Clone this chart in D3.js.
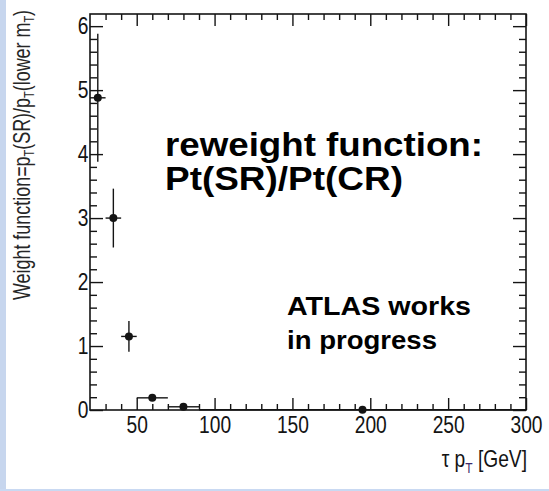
<!DOCTYPE html>
<html>
<head>
<meta charset="utf-8">
<script src="https://cdn.jsdelivr.net/npm/d3@7"></script>
<style>
  html, body { margin: 0; padding: 0; background: #ffffff; }
  svg { display: block; }
</style>
</head>
<body>
<svg id="chart" width="549" height="491"></svg>
<script>
// Tau pT bins (GeV) and the signal-region / control-region weight measured in each
const binLow    = [20, 30, 40, 50, 70, 90];
const binHigh   = [30, 40, 50, 70, 90, 300];
const binCenter = [25, 35, 45, 60, 80, 195];
const weight    = [4.88, 3.00, 1.15, 0.19, 0.05, 0.005];
const weightErr = [1.00, 0.46, 0.24, 0.03, 0.02, 0.005];

// Axis ticks
const xTicks = [50, 100, 150, 200, 250, 300];
const yTicks = [0, 1, 2, 3, 4, 5, 6];
const xMinorTicks = [30, 40, 60, 70, 80, 90, 110, 120, 130, 140, 160, 170, 180, 190,
                     210, 220, 230, 240, 260, 270, 280, 290];
const yMinorTicks = [0.2, 0.4, 0.6, 0.8, 1.2, 1.4, 1.6, 1.8, 2.2, 2.4, 2.6, 2.8,
                     3.2, 3.4, 3.6, 3.8, 4.2, 4.4, 4.6, 4.8, 5.2, 5.4, 5.6, 5.8];

const FONT = "'Liberation Sans', Arial, Helvetica, sans-serif";
const INK = "#141414";
const NARROW = "scale(0.8,1)";

const svg = d3.select("#chart");

// slide accents: left strip and bottom rule
svg.append("rect").attr("x", 0).attr("y", 0).attr("width", 6).attr("height", 491).attr("fill", "#c7d6ee");
svg.append("rect").attr("x", 0).attr("y", 489).attr("width", 549).attr("height", 2).attr("fill", "#c9d9f2");

// plot frame
const frame = { left: 90, right: 526, top: 14, bottom: 410 };

const x = d3.scaleLinear().domain([20, 300]).range([frame.left, frame.right]);
const y = d3.scaleLinear().domain([0, 6.19]).range([frame.bottom, frame.top]);

function styleAxis(g) {
  g.select(".domain").remove();
  g.attr("font-family", FONT).attr("font-size", 24).attr("color", INK);
  g.selectAll(".tick line").attr("stroke-width", 1.4);
  g.selectAll(".tick text").attr("transform", NARROW);
}

// bottom axis: labelled majors + minors, ticks pointing into the frame
svg.append("g").attr("transform", `translate(0,${frame.bottom})`)
  .call(d3.axisBottom(x).tickValues(xTicks).tickSizeInner(-12).tickSizeOuter(0)
          .tickPadding(6).tickFormat(d3.format("d")))
  .call(styleAxis);
svg.append("g").attr("transform", `translate(0,${frame.bottom})`)
  .call(d3.axisBottom(x).tickValues(xMinorTicks).tickSizeInner(-6).tickSizeOuter(0).tickFormat(""))
  .call(styleAxis);

// top mirror axis
svg.append("g").attr("transform", `translate(0,${frame.top})`)
  .call(d3.axisTop(x).tickValues(xTicks).tickSizeInner(-12).tickSizeOuter(0).tickFormat(""))
  .call(styleAxis);
svg.append("g").attr("transform", `translate(0,${frame.top})`)
  .call(d3.axisTop(x).tickValues(xMinorTicks).tickSizeInner(-6).tickSizeOuter(0).tickFormat(""))
  .call(styleAxis);

// left axis
svg.append("g").attr("transform", `translate(${frame.left},0)`)
  .call(d3.axisLeft(y).tickValues(yTicks).tickSizeInner(-13).tickSizeOuter(0)
          .tickPadding(2).tickFormat(d3.format("d")))
  .call(styleAxis);
svg.append("g").attr("transform", `translate(${frame.left},0)`)
  .call(d3.axisLeft(y).tickValues(yMinorTicks).tickSizeInner(-7).tickSizeOuter(0).tickFormat(""))
  .call(styleAxis);

// right mirror axis
svg.append("g").attr("transform", `translate(${frame.right},0)`)
  .call(d3.axisRight(y).tickValues(yTicks).tickSizeInner(-13).tickSizeOuter(0).tickFormat(""))
  .call(styleAxis);
svg.append("g").attr("transform", `translate(${frame.right},0)`)
  .call(d3.axisRight(y).tickValues(yMinorTicks).tickSizeInner(-7).tickSizeOuter(0).tickFormat(""))
  .call(styleAxis);

svg.append("rect")
  .attr("x", frame.left).attr("y", frame.top)
  .attr("width", frame.right - frame.left).attr("height", frame.bottom - frame.top)
  .attr("fill", "none").attr("stroke", INK).attr("stroke-width", 1.6);

// data points with bin-width and statistical error bars
const points = binCenter.map((c, i) => ({
  c, lo: binLow[i], hi: binHigh[i], w: weight[i], e: weightErr[i]
}));

const marks = svg.append("g").attr("stroke", INK).attr("stroke-width", 1.4);
marks.selectAll("line.xerr").data(points).join("line").attr("class", "xerr")
  .attr("x1", d => x(d.lo)).attr("x2", d => x(d.hi))
  .attr("y1", d => y(d.w)).attr("y2", d => y(d.w));
marks.selectAll("line.yerr").data(points).join("line").attr("class", "yerr")
  .attr("x1", d => x(d.c)).attr("x2", d => x(d.c))
  .attr("y1", d => y(d.w - d.e)).attr("y2", d => y(d.w + d.e));
svg.append("g").selectAll("circle").data(points).join("circle")
  .attr("cx", d => x(d.c)).attr("cy", d => y(d.w)).attr("r", 4).attr("fill", INK);

// axis titles
const yTitle = svg.append("text")
  .attr("transform", "translate(30,155) rotate(-90) scale(0.78,1)")
  .attr("text-anchor", "middle")
  .attr("font-family", FONT).attr("font-size", 23).attr("fill", "#262626");
yTitle.append("tspan").text("Weight function=p");
yTitle.append("tspan").attr("font-size", 14).attr("dy", 4).text("T");
yTitle.append("tspan").attr("dy", -4).text("(SR)/p");
yTitle.append("tspan").attr("font-size", 14).attr("dy", 4).text("T");
yTitle.append("tspan").attr("dy", -4).text("(lower m");
yTitle.append("tspan").attr("font-size", 14).attr("dy", 4).text("T");
yTitle.append("tspan").attr("dy", -4).text(")");

const xTitle = svg.append("text")
  .attr("transform", "translate(527,467) " + NARROW)
  .attr("text-anchor", "end")
  .attr("font-family", FONT).attr("font-size", 24).attr("fill", INK);
xTitle.append("tspan").text("τ p");
xTitle.append("tspan").attr("font-size", 15).attr("dy", 6).attr("fill", "#3a2a6a").text("T");
xTitle.append("tspan").attr("dy", -6).text(" [GeV]");

// annotations
const note = svg.append("g").attr("font-family", FONT).attr("font-weight", "bold").attr("fill", "#000")
  .attr("lengthAdjust", "spacingAndGlyphs");
note.append("text").attr("x", 165).attr("y", 156).attr("font-size", 33)
  .attr("textLength", 318).attr("lengthAdjust", "spacingAndGlyphs").text("reweight function:");
note.append("text").attr("x", 165).attr("y", 190).attr("font-size", 33)
  .attr("textLength", 238).attr("lengthAdjust", "spacingAndGlyphs").text("Pt(SR)/Pt(CR)");
note.append("text").attr("x", 287).attr("y", 315).attr("font-size", 25)
  .attr("textLength", 184).attr("lengthAdjust", "spacingAndGlyphs").text("ATLAS works");
note.append("text").attr("x", 287).attr("y", 349).attr("font-size", 25)
  .attr("textLength", 150).attr("lengthAdjust", "spacingAndGlyphs").text("in progress");
</script>
</body>
</html>
